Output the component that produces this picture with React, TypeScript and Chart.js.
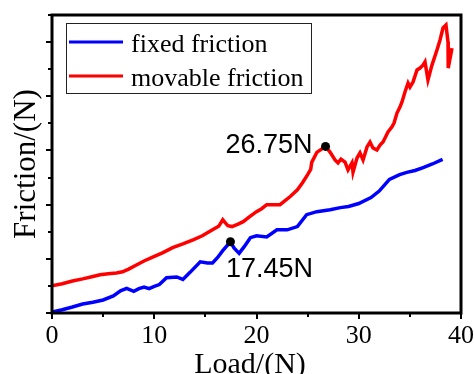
import React, { useEffect, useRef } from 'react';
import { Chart, registerables } from 'chart.js';

Chart.register(...registerables);

// ---- data ----
const seriesLabels = ['fixed friction', 'movable friction'];
const seriesColors = ['#0000FF', '#FF0000'];
const xTickValues = [0, 10, 20, 30, 40];

const fixedX = [0, 1, 2, 3, 4, 5, 6, 6.7, 7.3, 8.0, 8.5, 9.0, 9.5, 10.0, 10.5, 11.2, 12.2, 12.8, 13.5, 14.5, 15.2, 15.7, 16.2, 16.7, 17.45, 17.8, 18.3, 18.8, 19.4, 20.0, 21.0, 22.0, 23.0, 24.0, 24.9, 25.9, 27.2, 28.2, 29.0, 30.0, 31.2, 32.0, 33.0, 34.0, 34.7, 35.5, 36.3, 37.2, 38.2];
const fixedY = [0.04, 0.12, 0.22, 0.33, 0.40, 0.48, 0.63, 0.82, 0.91, 0.80, 0.90, 0.96, 0.90, 0.98, 1.05, 1.30, 1.33, 1.24, 1.50, 1.89, 1.85, 1.85, 2.05, 2.30, 2.63, 2.40, 2.20, 2.45, 2.78, 2.85, 2.81, 3.07, 3.07, 3.19, 3.63, 3.74, 3.81, 3.89, 3.93, 4.04, 4.26, 4.50, 4.93, 5.11, 5.19, 5.26, 5.37, 5.50, 5.67];

const movableX = [0, 1, 2, 3, 4, 4.7, 5.5, 6.3, 6.9, 7.5, 8.3, 9.0, 9.9, 10.8, 11.8, 12.8, 13.8, 14.7, 15.7, 16.3, 16.7, 17.2, 17.6, 18.2, 18.7, 19.3, 20.0, 20.5, 21.0, 21.7, 22.3, 23.3, 24.0, 24.5, 25.0, 25.3, 25.4, 25.9, 26.75, 27.19, 27.68, 27.97, 28.26, 28.66, 28.95, 29.34, 29.44, 29.83, 30.12, 30.42, 30.81, 31.10, 31.39, 31.78, 32.08, 32.37, 32.57, 32.86, 33.25, 33.45, 33.74, 34.03, 34.23, 34.52, 34.82, 35.01, 35.31, 35.70, 35.99, 36.28, 36.48, 36.77, 37.16, 37.65, 37.95, 38.24, 38.53, 38.73, 38.75, 39.12];
const movableY = [1.0, 1.08, 1.18, 1.26, 1.35, 1.41, 1.45, 1.48, 1.52, 1.62, 1.78, 1.92, 2.07, 2.22, 2.41, 2.55, 2.70, 2.85, 3.07, 3.20, 3.44, 3.22, 3.19, 3.28, 3.37, 3.55, 3.74, 3.85, 4.0, 4.0, 4.0, 4.30, 4.55, 4.81, 5.11, 5.30, 5.56, 5.93, 6.15, 5.94, 5.65, 5.54, 5.68, 5.57, 5.28, 5.54, 5.20, 5.72, 5.91, 5.65, 6.13, 6.31, 6.09, 6.02, 6.20, 6.31, 6.46, 6.68, 6.87, 7.01, 7.38, 7.60, 7.79, 8.16, 8.49, 8.34, 8.53, 8.97, 9.04, 9.15, 9.27, 8.60, 9.15, 9.71, 10.08, 10.52, 10.63, 10.00, 9.04, 9.78];

const markerX = [17.45, 26.75];
const markerY = [2.63, 6.15];
const markerLabels = ['17.45N', '26.75N'];

const xTitle = 'Load/(N)';
const yTitle = 'Friction/(N)';

const SERIF = '"Liberation Serif", "Times New Roman", serif';
const SANS = '"Liberation Sans", Arial, sans-serif';

const overlayPlugin = {
  id: 'overlay',
  afterDraw(chart: any) {
    const { ctx, chartArea: a, scales } = chart;
    const xs = scales.x;
    const ys = scales.y;
    ctx.save();
    ctx.strokeStyle = '#000';
    ctx.fillStyle = '#000';

    // tick marks
    ctx.lineWidth = 2;
    for (let v = 0; v <= 40; v += 5) {
      const px = Math.round(xs.getPixelForValue(v));
      const len = v % 10 === 0 ? 6 : 4;
      ctx.beginPath();
      ctx.moveTo(px, a.bottom);
      ctx.lineTo(px, a.bottom + len);
      ctx.stroke();
    }
    for (let v = 0; v <= 11; v += 1) {
      const py = Math.round(ys.getPixelForValue(v));
      const len = v % 2 === 0 ? 6 : 4;
      ctx.beginPath();
      ctx.moveTo(a.left - len, py);
      ctx.lineTo(a.left, py);
      ctx.stroke();
    }

    // x tick labels
    ctx.font = '26px ' + SERIF;
    ctx.textAlign = 'center';
    ctx.textBaseline = 'alphabetic';
    xTickValues.forEach((v) => {
      ctx.fillText(String(v), xs.getPixelForValue(v), 343);
    });

    // frame
    ctx.lineWidth = 3;
    ctx.strokeRect(a.left, a.top, a.right - a.left, a.bottom - a.top);

    // legend
    const lx = a.left + 14;
    const ly = a.top + 8;
    ctx.lineWidth = 1;
    ctx.strokeStyle = '#222';
    ctx.strokeRect(lx + 0.5, ly + 0.5, 245, 70);
    ctx.font = '26px ' + SERIF;
    ctx.textAlign = 'left';
    chart.data.datasets.slice(1).forEach((ds: any, i: number) => {
      const yy = ly + 19 + i * 34;
      ctx.strokeStyle = ds.borderColor;
      ctx.lineWidth = 3;
      ctx.beginPath();
      ctx.moveTo(lx + 3, yy);
      ctx.lineTo(lx + 57, yy);
      ctx.stroke();
      ctx.fillStyle = '#000';
      ctx.fillText(ds.label, lx + 65, yy + 10);
    });

    // marker labels
    ctx.font = '27px ' + SANS;
    ctx.fillStyle = '#000';
    markerLabels.forEach((t, i) => {
      const px = xs.getPixelForValue(markerX[i]);
      const py = ys.getPixelForValue(markerY[i]);
      if (i === 0) {
        ctx.textAlign = 'left';
        ctx.fillText(t, px - 4.5, py + 35);
      } else {
        ctx.textAlign = 'right';
        ctx.fillText(t, px - 13, py + 7);
      }
    });

    // axis titles
    ctx.font = '30px ' + SERIF;
    ctx.textAlign = 'center';
    ctx.fillText(xTitle, 250, 373);
    ctx.save();
    ctx.translate(35, 164);
    ctx.rotate(-Math.PI / 2);
    ctx.font = '31px ' + SERIF;
    ctx.fillText(yTitle, 0, 0);
    ctx.restore();

    ctx.restore();
  },
};

export default function App() {
  const ref = useRef<HTMLCanvasElement>(null);
  useEffect(() => {
    if (!ref.current) return;
    const toPts = (xa: number[], ya: number[]) => xa.map((x, i) => ({ x, y: ya[i] }));
    const chart = new Chart(ref.current, {
      type: 'line',
      data: {
        datasets: [
          {
            label: 'markers',
            type: 'scatter',
            data: toPts(markerX, markerY),
            pointRadius: 4.5,
            pointBackgroundColor: '#000',
            pointBorderColor: '#000',
            pointBorderWidth: 0,
            showLine: false,
            order: 0,
          } as any,
          {
            label: seriesLabels[0],
            data: toPts(fixedX, fixedY),
            borderColor: seriesColors[0],
            backgroundColor: seriesColors[0],
            borderWidth: 3.5,
            pointRadius: 0,
            tension: 0,
            order: 1,
          },
          {
            label: seriesLabels[1],
            data: toPts(movableX, movableY),
            borderColor: seriesColors[1],
            backgroundColor: seriesColors[1],
            borderWidth: 3.5,
            pointRadius: 0,
            tension: 0,
            order: 2,
          },
        ],
      },
      options: {
        responsive: false,
        animation: false,
        devicePixelRatio: 1,
        layout: { padding: { left: 0, right: 13, top: 15, bottom: 0 } },
        plugins: { legend: { display: false }, tooltip: { enabled: false } },
        scales: {
          x: {
            type: 'linear',
            min: 0,
            max: 40,
            ticks: { display: false, stepSize: 10 },
            grid: { display: false, drawTicks: false },
            border: { display: false },
            afterFit: (s: any) => {
              s.height = 61;
            },
          },
          y: {
            type: 'linear',
            min: 0,
            max: 11,
            ticks: { display: false, stepSize: 1 },
            grid: { display: false, drawTicks: false },
            border: { display: false },
            afterFit: (s: any) => {
              s.width = 52;
            },
          },
        },
      },
      plugins: [overlayPlugin],
    });
    return () => chart.destroy();
  }, []);
  return (
    <div style={{ position: 'absolute', left: 0, top: 0, width: 474, height: 374, background: '#fff' }}>
      <canvas ref={ref} width={474} height={374} style={{ width: 474, height: 374, display: 'block' }} />
    </div>
  );
}
